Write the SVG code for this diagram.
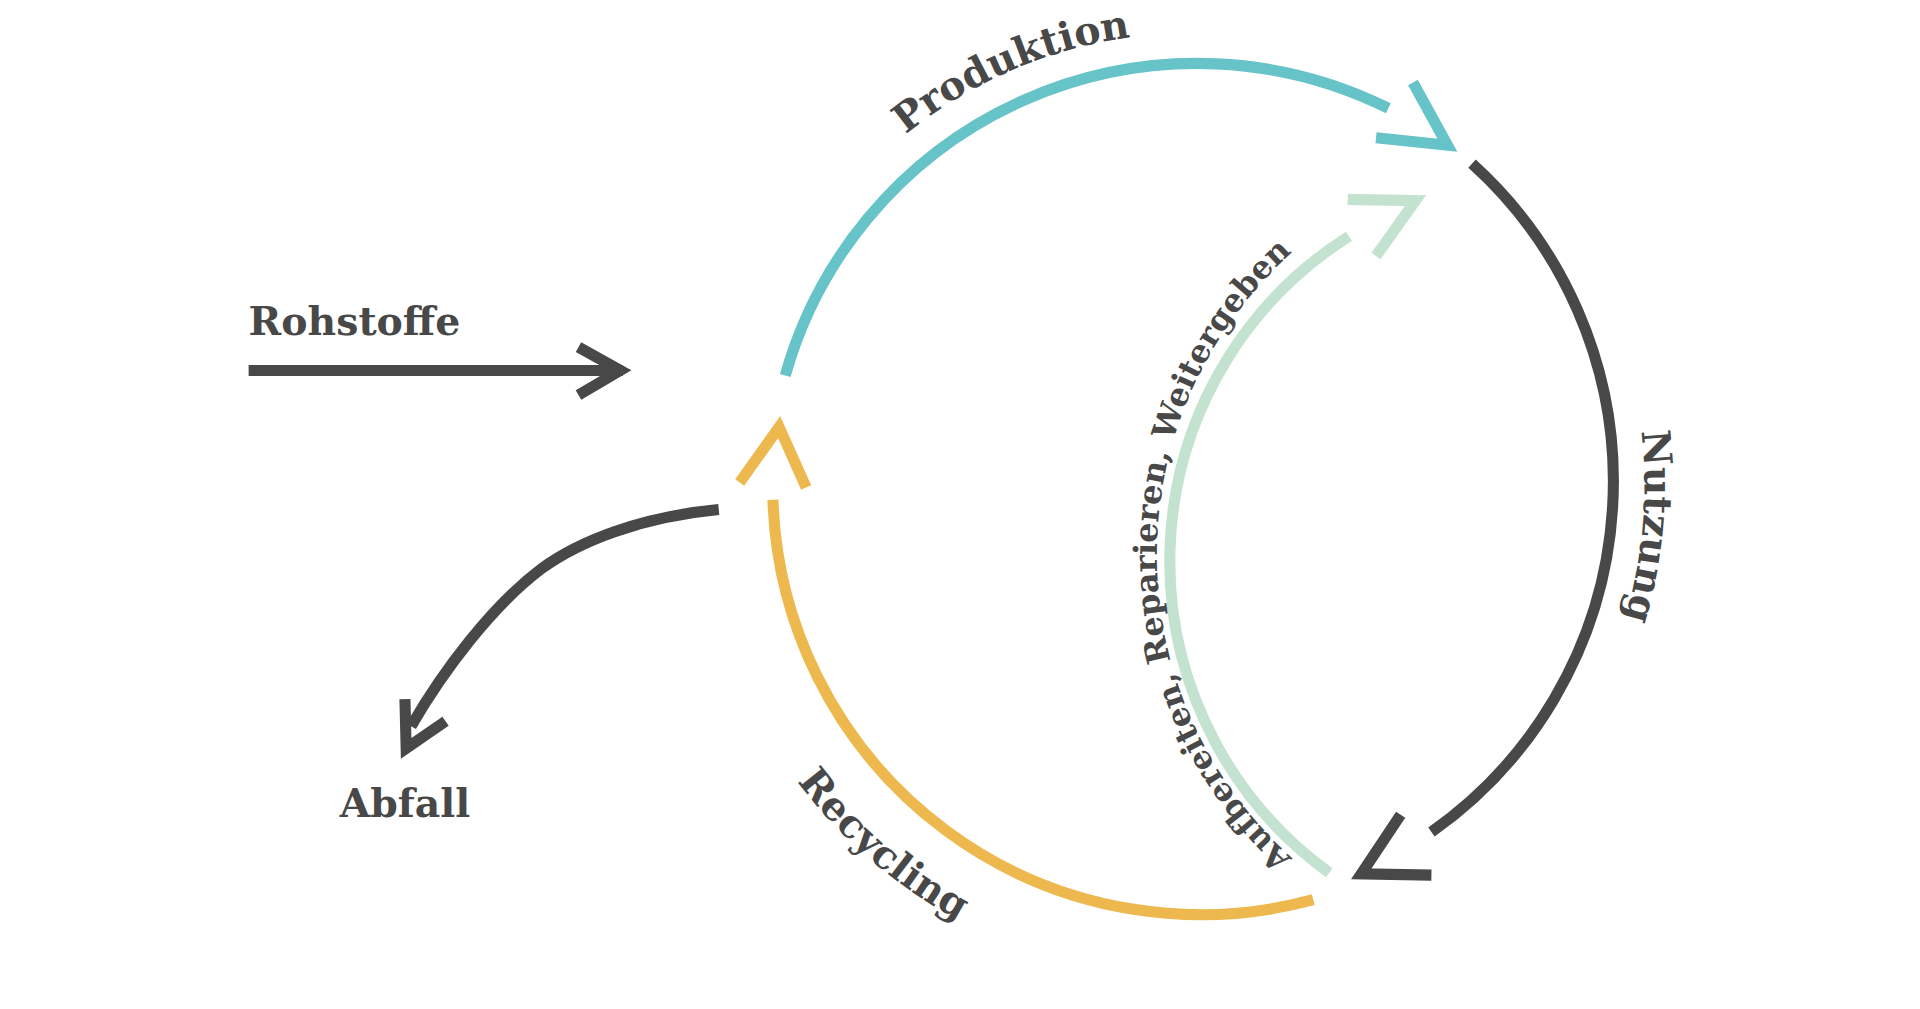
<svg xmlns="http://www.w3.org/2000/svg" width="1920" height="1009" viewBox="0 0 1920 1009">
<style>
.l{fill:none;stroke-width:9;stroke-miterlimit:10}
.d{stroke:#484848}.t{stroke:#66c3c8}.y{stroke:#edb94f}.g{stroke:#c3e2cf}
text{font-family:"DejaVu Serif","Liberation Serif",serif;fill:#484848;font-weight:bold}
.b{font-size:32px}.s{font-size:26px}
</style>
<defs>
<path id="cw" d="M600,395 A368,368 0 1 1 1336,395 A368,368 0 1 1 600,395"/>
<path id="ccw" d="M568,395 A400,400 0 1 0 1368,395 A400,400 0 1 0 568,395"/>
<path id="gcw" d="M1270,781 A330,330 0 1 1 1270,121 A330,330 0 1 1 1270,781"/>
</defs>
<rect width="1920" height="1009" fill="#fff"/>
<g transform="scale(1.2308)">
<g id="connectors">
<path class="l t" d="M638,305 A348,348 0 0 1 1128,88"/>
<polyline class="l t" points="1148,67 1176,118 1118,112"/>
<path class="l d" d="M1196,133 A348,348 0 0 1 1163,676"/>
<polyline class="l d" points="1138,662 1106,710 1163,711"/>
<path class="l y" d="M1067,731 A348,348 0 0 1 628,406"/>
<polyline class="l y" points="601,392 633,347 655,396"/>
<path class="l g" d="M1080,709 A312,312 0 0 1 1096,192"/>
<polyline class="l g" points="1095,162 1150,163 1118,208"/>
<path class="l d" d="M202,301 H506"/>
<polyline class="l d" points="470,282 504,301 470,321"/>
<path class="l d" d="M584,414 C520,420 470,440 440,462 C400,492 360,545 334,590"/>
<polyline class="l d" points="329,568 330,608 362,586"/>
</g>
<g id="rohstoffe"><text class="b" x="202" y="272">Rohstoffe</text></g>
<g id="abfall"><text class="b" x="276" y="664">Abfall</text></g>
<g id="produktion"><text class="b" text-anchor="middle"><textPath href="#cw" startOffset="18.5%">Produktion</textPath></text></g>
<g id="nutzung"><text class="b" text-anchor="middle"><textPath href="#cw" startOffset="51.4%">Nutzung</textPath></text></g>
<g id="recycling"><text class="b" text-anchor="middle"><textPath href="#ccw" startOffset="13.7%">Recycling</textPath></text></g>
<g id="aufbereiten"><text class="s" text-anchor="middle"><textPath href="#gcw" startOffset="25%">Aufbereiten, Reparieren, Weitergeben</textPath></text></g>
</g>
</svg>
